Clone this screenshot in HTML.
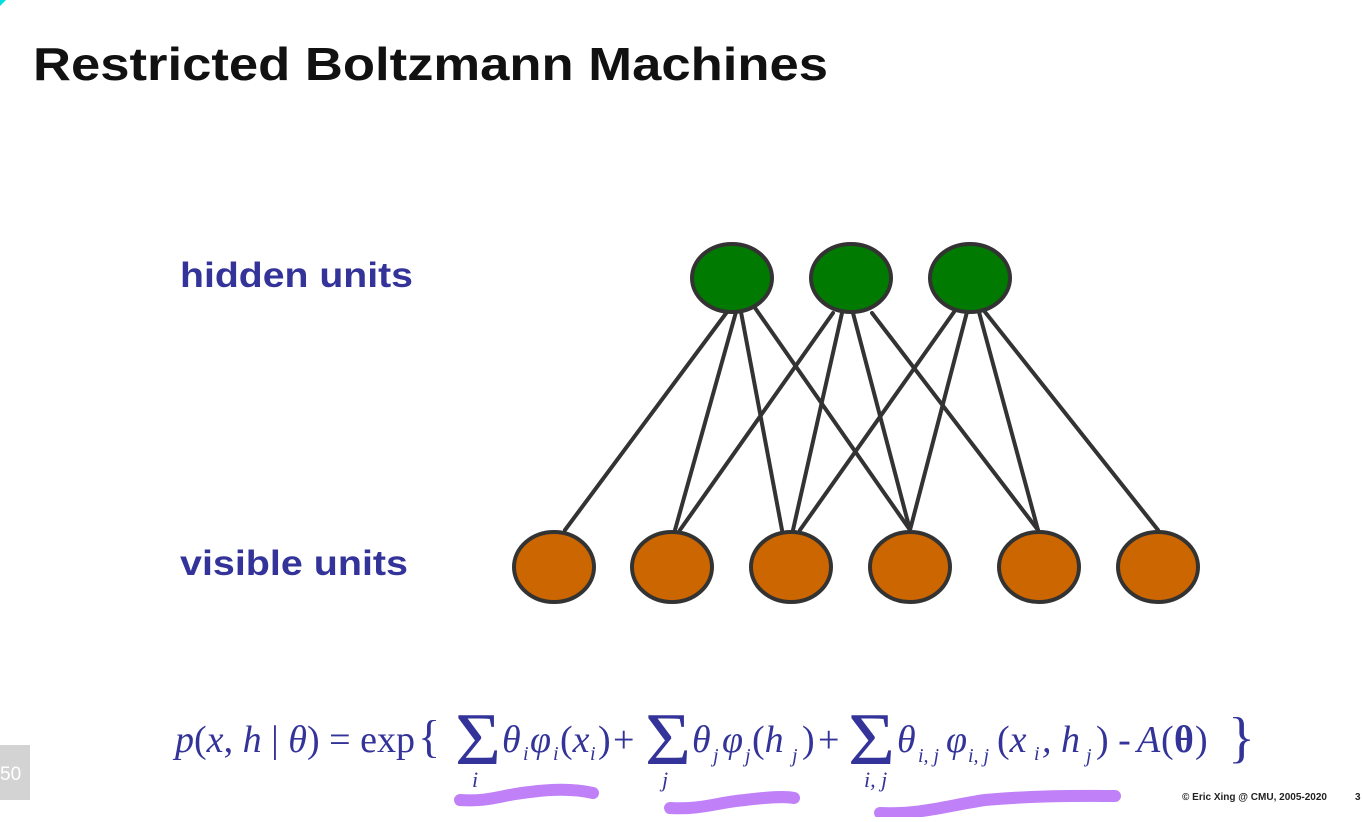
<!DOCTYPE html>
<html><head><meta charset="utf-8"><style>
html,body{margin:0;padding:0;background:#fff;}
body{width:1362px;height:817px;position:relative;overflow:hidden;}
</style></head><body>
<svg width="1362" height="817" viewBox="0 0 1362 817" xmlns="http://www.w3.org/2000/svg">
<path d="M0 0 L6 0 L0 6 Z" fill="#00e0e0"/>
<text x="33" y="80" font-family="Liberation Sans, sans-serif" font-weight="bold" font-size="46" fill="#111" textLength="795" lengthAdjust="spacingAndGlyphs">Restricted Boltzmann Machines</text>
<text x="180" y="287" font-family="Liberation Sans, sans-serif" font-weight="bold" font-size="35" fill="#333399" textLength="233" lengthAdjust="spacingAndGlyphs">hidden units</text>
<text x="180" y="575" font-family="Liberation Sans, sans-serif" font-weight="bold" font-size="35" fill="#333399" textLength="228" lengthAdjust="spacingAndGlyphs">visible units</text>
<g stroke="#333" stroke-width="4" stroke-linecap="round">
<line x1="727" y1="312" x2="565" y2="530"/>
<line x1="736" y1="312" x2="675" y2="530"/>
<line x1="741" y1="312" x2="782" y2="530"/>
<line x1="753" y1="305" x2="910" y2="530"/>
<line x1="833" y1="313" x2="680" y2="530"/>
<line x1="842" y1="313" x2="793" y2="530"/>
<line x1="853" y1="313" x2="910" y2="530"/>
<line x1="872" y1="313" x2="1038" y2="530"/>
<line x1="954" y1="312" x2="800" y2="530"/>
<line x1="967" y1="312" x2="910" y2="530"/>
<line x1="979" y1="312" x2="1038" y2="530"/>
<line x1="985" y1="312" x2="1158" y2="530"/>
</g>
<g fill="#007a00" stroke="#333" stroke-width="4">
<ellipse cx="732" cy="278" rx="40" ry="34"/>
<ellipse cx="851" cy="278" rx="40" ry="34"/>
<ellipse cx="970" cy="278" rx="40" ry="34"/>
</g>
<g fill="#cc6600" stroke="#333" stroke-width="4">
<ellipse cx="554" cy="567" rx="40" ry="35"/>
<ellipse cx="672" cy="567" rx="40" ry="35"/>
<ellipse cx="791" cy="567" rx="40" ry="35"/>
<ellipse cx="910" cy="567" rx="40" ry="35"/>
<ellipse cx="1039" cy="567" rx="40" ry="35"/>
<ellipse cx="1158" cy="567" rx="40" ry="35"/>
</g>
<g stroke="#c080f8" stroke-width="12" stroke-linecap="round" fill="none">
<path d="M460 800 C490 802 500 795 530 792 C560 788 580 790 593 793"/>
<path d="M670 808 C700 810 720 802 745 800 C770 797 785 796 794 798"/>
<path d="M880 813 C920 815 950 805 985 800 C1040 795 1090 796 1115 796"/>
</g>
<g font-family="Liberation Serif, serif" fill="#333399">
<text x="175" y="752" font-size="38" textLength="240" lengthAdjust="spacingAndGlyphs"><tspan font-style="italic">p</tspan>(<tspan font-style="italic">x</tspan>, <tspan font-style="italic">h</tspan> | <tspan font-style="italic">θ</tspan>) = exp</text>
<text x="418" y="752" font-size="46">{</text>
<text x="455" y="764" font-size="74" textLength="46" lengthAdjust="spacingAndGlyphs">Σ</text>
<text x="472" y="787" font-size="22" font-style="italic">i</text>
<text x="502" y="752" font-size="38" font-style="italic">θ</text>
<text x="523" y="760" font-size="20" font-style="italic">i</text>
<text x="530" y="752" font-size="38" font-style="italic">φ</text>
<text x="553" y="760" font-size="20" font-style="italic">i</text>
<text x="560" y="752" font-size="38">(<tspan font-style="italic">x</tspan></text>
<text x="590" y="760" font-size="20" font-style="italic">i</text>
<text x="598" y="752" font-size="38">)</text>
<text x="613" y="752" font-size="38">+</text>
<text x="645" y="764" font-size="74" textLength="46" lengthAdjust="spacingAndGlyphs">Σ</text>
<text x="662" y="787" font-size="22" font-style="italic">j</text>
<text x="692" y="752" font-size="38" font-style="italic">θ</text>
<text x="713" y="762" font-size="20" font-style="italic">j</text>
<text x="722" y="752" font-size="38" font-style="italic">φ</text>
<text x="745" y="762" font-size="20" font-style="italic">j</text>
<text x="752" y="752" font-size="38">(<tspan font-style="italic">h</tspan></text>
<text x="792" y="762" font-size="20" font-style="italic">j</text>
<text x="802" y="752" font-size="38">)</text>
<text x="818" y="752" font-size="38">+</text>
<text x="848" y="764" font-size="74" textLength="47" lengthAdjust="spacingAndGlyphs">Σ</text>
<text x="864" y="787" font-size="22" font-style="italic">i, j</text>
<text x="897" y="752" font-size="38" font-style="italic">θ</text>
<text x="918" y="762" font-size="20" font-style="italic">i, j</text>
<text x="946" y="752" font-size="38" font-style="italic">φ</text>
<text x="968" y="762" font-size="20" font-style="italic">i, j</text>
<text x="997" y="752" font-size="38">(<tspan font-style="italic">x</tspan></text>
<text x="1034" y="760" font-size="20" font-style="italic">i</text>
<text x="1042" y="752" font-size="38" font-style="italic">, h</text>
<text x="1086" y="762" font-size="20" font-style="italic">j</text>
<text x="1096" y="752" font-size="38">) - </text>
<text x="1137" y="752" font-size="38" font-style="italic">A</text>
<text x="1161" y="752" font-size="38">(</text>
<text x="1174" y="752" font-size="38" font-weight="bold">θ</text>
<text x="1195" y="752" font-size="38">)</text>
<text x="1228" y="756" font-size="56">}</text>
</g>
<rect x="0" y="745" width="30" height="55" fill="#d3d3d3"/>
<text x="0" y="780" font-family="Liberation Sans, sans-serif" font-size="19" fill="#fff">50</text>
<text x="1182" y="800" font-family="Liberation Sans, sans-serif" font-weight="bold" font-size="10" fill="#222">© Eric Xing @ CMU, 2005-2020</text>
<text x="1355" y="800" font-family="Liberation Sans, sans-serif" font-weight="bold" font-size="10" fill="#222">3</text>
</svg>
</body></html>
